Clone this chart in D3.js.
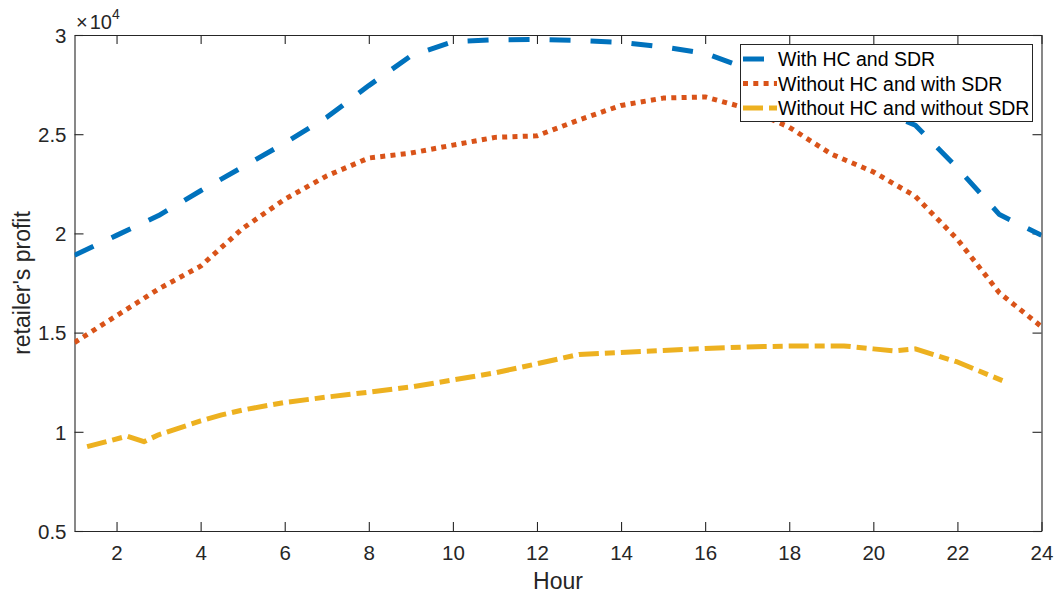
<!DOCTYPE html>
<html>
<head>
<meta charset="utf-8">
<script src="https://cdn.jsdelivr.net/npm/d3@7"></script>
<style>
  html, body { margin: 0; padding: 0; background: #fff; }
  svg { display: block; font-family: Arial, "Liberation Sans", Helvetica, sans-serif; }
</style>
</head>
<body>
<svg id="chart" width="1060" height="601"></svg>
<script>
// Hourly retailer's profit (units of 10^4)
const hours = [1, 2, 3, 4, 5, 6, 7, 8, 9, 10, 11, 12, 13, 14, 15, 16, 17, 18, 19, 20, 21, 22, 23, 24];
const withHCandSDR = [1.89, 1.99, 2.09, 2.215, 2.335, 2.455, 2.585, 2.745, 2.895, 2.966, 2.976, 2.977, 2.972, 2.963, 2.94, 2.908, 2.83, 2.765, 2.70, 2.635, 2.545, 2.33, 2.095, 1.99];
const withoutHCwithSDR = [1.45, 1.585, 1.72, 1.835, 2.025, 2.172, 2.29, 2.38, 2.405, 2.445, 2.484, 2.492, 2.572, 2.645, 2.682, 2.688, 2.63, 2.535, 2.40, 2.31, 2.187, 1.97, 1.70, 1.53];
const hoursNoHCnoSDR = [1.3, 2.25, 2.65, 3, 4, 4.5, 5, 6, 7, 8, 9, 10, 11, 12, 13, 14, 15, 16, 17, 18, 19.3, 20, 20.5, 21, 22, 23.07];
const withoutHCwithoutSDR = [0.925, 0.978, 0.95, 0.985, 1.055, 1.085, 1.11, 1.148, 1.175, 1.20, 1.226, 1.261, 1.297, 1.343, 1.39, 1.40, 1.41, 1.42, 1.428, 1.432, 1.433, 1.418, 1.408, 1.418, 1.352, 1.258];

const xTicks = [2, 4, 6, 8, 10, 12, 14, 16, 18, 20, 22, 24];
const yTicks = [0.5, 1, 1.5, 2, 2.5, 3];
const legendLabels = ["With HC and SDR", "Without HC and with SDR", "Without HC and without SDR"];

const series = [
  { name: legendLabels[0], xs: hours, ys: withHCandSDR, color: "#0072BD", dash: "21,20" },
  { name: legendLabels[1], xs: hours, ys: withoutHCwithSDR, color: "#D95319", dash: "5,5.3" },
  { name: legendLabels[2], xs: hoursNoHCnoSDR, ys: withoutHCwithoutSDR, color: "#EDB120", dash: "20,6,10,6" }
];

const svg = d3.select("#chart");
const plot = { left: 74.5, right: 1041.5, top: 35, bottom: 531 };
const axisColor = "#262626";

const x = d3.scaleLinear().domain([1, 24]).range([plot.left, plot.right]);
const y = d3.scaleLinear().domain([0.5, 3]).range([plot.bottom, plot.top]);

// clip lines to the axes box
svg.append("defs").append("clipPath").attr("id", "plotClip")
  .append("rect")
  .attr("x", plot.left).attr("y", plot.top)
  .attr("width", plot.right - plot.left).attr("height", plot.bottom - plot.top);

const tickFmt = d => d3.format("~g")(d);

// bottom axis with inward ticks
const gx = svg.append("g")
  .attr("transform", `translate(0,${plot.bottom})`)
  .call(d3.axisBottom(x).tickValues(xTicks).tickSizeInner(-9).tickSizeOuter(0).tickPadding(14).tickFormat(tickFmt));
// top axis (box)
const gxTop = svg.append("g")
  .attr("transform", `translate(0,${plot.top})`)
  .call(d3.axisTop(x).tickValues(xTicks).tickSizeInner(-9).tickSizeOuter(0).tickFormat(""));
// left axis
const gy = svg.append("g")
  .attr("transform", `translate(${plot.left},0)`)
  .call(d3.axisLeft(y).tickValues(yTicks).tickSizeInner(-9).tickSizeOuter(0).tickPadding(8).tickFormat(tickFmt));
// right axis (box)
const gyRight = svg.append("g")
  .attr("transform", `translate(${plot.right},0)`)
  .call(d3.axisRight(y).tickValues(yTicks).tickSizeInner(-9).tickSizeOuter(0).tickFormat(""));

[gx, gxTop, gy, gyRight].forEach(g => {
  g.select(".domain").attr("stroke", axisColor).attr("stroke-width", 1.1);
  g.selectAll(".tick line").attr("stroke", axisColor).attr("stroke-width", 1.1);
  g.selectAll(".tick text").attr("fill", axisColor).style("font-size", "20.5px")
    .style("font-family", "Arial, 'Liberation Sans', sans-serif");
});
gx.selectAll(".tick text").attr("dy", "0.71em");
gy.selectAll(".tick text").attr("dy", "0.36em");

// exponent label
const expo = svg.append("text")
  .attr("x", 76).attr("y", 29)
  .attr("fill", axisColor)
  .style("font-size", "20px");
expo.append("tspan").text("×");
expo.append("tspan").attr("dx", 2).text("10");
expo.append("tspan").attr("dy", -10).style("font-size", "14px").text("4");

// axis titles
svg.append("text")
  .attr("x", (plot.left + plot.right) / 2).attr("y", 589)
  .attr("text-anchor", "middle")
  .attr("fill", axisColor)
  .style("font-size", "23px")
  .text("Hour");

svg.append("text")
  .attr("transform", `translate(30,${(plot.top + plot.bottom) / 2}) rotate(-90)`)
  .attr("text-anchor", "middle")
  .attr("fill", axisColor)
  .style("font-size", "23px")
  .text("retailer's profit");

// series lines
const lines = svg.append("g").attr("clip-path", "url(#plotClip)");
series.forEach(s => {
  const pts = s.xs.map((h, i) => [h, s.ys[i]]);
  lines.append("path")
    .datum(pts)
    .attr("fill", "none")
    .attr("stroke", s.color)
    .attr("stroke-width", 5)
    .attr("stroke-dasharray", s.dash)
    .attr("stroke-linejoin", "round")
    .attr("d", d3.line().x(d => x(d[0])).y(d => y(d[1])));
});

// legend
const leg = svg.append("g");
leg.append("rect")
  .attr("x", 740.5).attr("y", 44.5)
  .attr("width", 292).attr("height", 77)
  .attr("fill", "#fff")
  .attr("stroke", axisColor)
  .attr("stroke-width", 1);
const rowY = [59, 83.5, 108];
series.forEach((s, i) => {
  leg.append("line")
    .attr("x1", 743).attr("x2", 777)
    .attr("y1", rowY[i]).attr("y2", rowY[i])
    .attr("stroke", s.color)
    .attr("stroke-width", 5)
    .attr("stroke-dasharray", s.dash);
  leg.append("text")
    .attr("x", 778).attr("y", rowY[i])
    .attr("dy", "0.36em")
    .attr("fill", "#000")
    .style("font-size", "19.5px")
    .text(s.name);
});
</script>
</body>
</html>
